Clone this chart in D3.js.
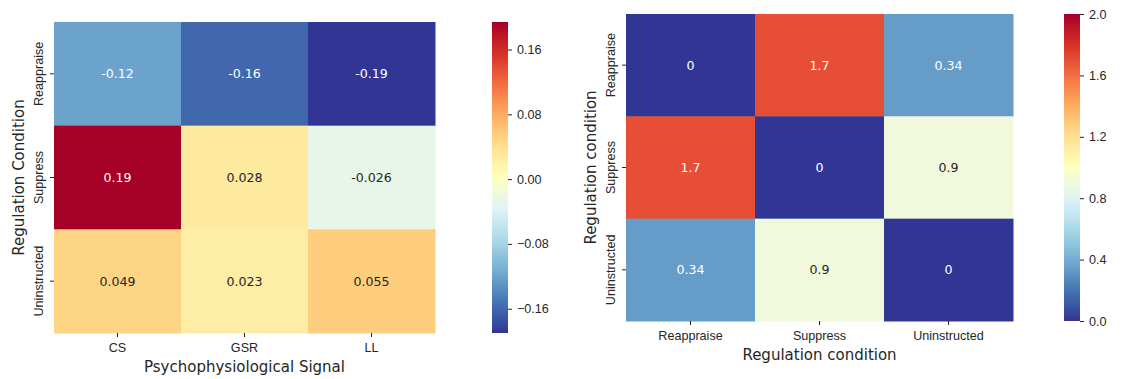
<!DOCTYPE html>
<html lang="en">
  <head>
    <meta charset="UTF-8" />
    <title>Regulation heatmaps</title>
    <style>
      body { margin: 0; background: #fff; }
      svg { display: block; font-family: "DejaVu Sans", sans-serif; }
      .tick line { stroke: #262626; }
      .tick text { fill: #262626; }
      .title { fill: #262626; font-size: 15px; }
    </style>
    <script src="https://d3js.org/d3.v7.min.js"></script>
  </head>
  <body>
    <svg id="fig" width="1123" height="379"></svg>
    <script>
      // left heatmap data
      const signals = ["CS", "GSR", "LL"];
      const conditions = ["Reappraise", "Suppress", "Uninstructed"];
      const signalValues = [
        [-0.12, -0.16, -0.19],
        [0.194, 0.028, -0.026],
        [0.049, 0.023, 0.055],
      ];
      const signalTicks = [0.16, 0.08, 0, -0.08, -0.16];

      // right heatmap data
      const distValues = [
        [0, 1.7, 0.34],
        [1.7, 0, 0.9],
        [0.34, 0.9, 0],
      ];
      const distRange = [0, 2];
      const distTicks = [0, 0.4, 0.8, 1.2, 1.6, 2.0];

      // RdYlBu reversed, piecewise linear like matplotlib
      const rdylbu = ["#313695", "#4575b4", "#74add1", "#abd9e9", "#e0f3f8", "#ffffbf",
        "#fee090", "#fdae61", "#f46d43", "#d73027", "#a50026"];
      const interp = d3.piecewise(d3.interpolateRgb, rdylbu);

      const annotFmt = d3.formatLocale({ decimal: ".", thousands: ",", grouping: [3], currency: ["", ""], minus: "-" }).format(".2~g");

      const svg = d3.select("#fig");

      function luminance(c) {
        const rgb = d3.rgb(c);
        const f = (v) => {
          v /= 255;
          return v <= 0.03928 ? v / 12.92 : Math.pow((v + 0.055) / 1.055, 2.4);
        };
        return 0.2126 * f(rgb.r) + 0.7152 * f(rgb.g) + 0.0722 * f(rgb.b);
      }

      function heatmap(o) {
        const g = svg.append("g");
        const x = d3.scaleBand().domain(o.cols).range([o.left, o.right]);
        const y = d3.scaleBand().domain(o.rows).range([o.top, o.bottom]);
        const color = d3.scaleSequential(interp).domain(o.domain);

        const cells = [];
        o.values.forEach((row, i) =>
          row.forEach((v, j) => cells.push({ r: o.rows[i], c: o.cols[j], v }))
        );

        g.selectAll("rect.cell")
          .data(cells)
          .join("rect")
          .attr("class", "cell")
          .attr("x", (d) => x(d.c))
          .attr("y", (d) => y(d.r))
          .attr("width", x.bandwidth() + 0.5)
          .attr("height", y.bandwidth() + 0.5)
          .attr("fill", (d) => color(d.v));

        g.selectAll("text.annot")
          .data(cells)
          .join("text")
          .attr("class", "annot")
          .attr("x", (d) => x(d.c) + x.bandwidth() / 2)
          .attr("y", (d) => y(d.r) + y.bandwidth() / 2)
          .attr("dy", "0.36em")
          .attr("text-anchor", "middle")
          .style("font-size", "12.6px")
          .attr("fill", (d) => (luminance(color(d.v)) > 0.408 ? "#262626" : "#ffffff"))
          .text((d) => annotFmt(d.v));

        const xa = g.append("g")
          .attr("transform", `translate(0,${o.bottom})`)
          .call(d3.axisBottom(x).tickSize(4).tickPadding(6));
        xa.select(".domain").remove();
        xa.selectAll("text").style("font-size", "12.6px").attr("fill", "#262626").attr("dy", "0.75em");

        const ya = g.append("g")
          .attr("transform", `translate(${o.left},0)`)
          .call(d3.axisLeft(y).tickSize(4));
        ya.select(".domain").remove();
        ya.selectAll("text")
          .style("font-size", "12.6px")
          .attr("fill", "#262626")
          .attr("x", null)
          .attr("dy", "0.35em")
          .attr("text-anchor", "middle")
          .attr("transform", "translate(-15,0) rotate(-90)");

        g.append("text")
          .attr("class", "title")
          .attr("x", (o.left + o.right) / 2)
          .attr("y", o.bottom + 39)
          .attr("text-anchor", "middle")
          .text(o.xTitle);

        g.append("text")
          .attr("class", "title")
          .attr("transform", `translate(${o.left - 30},${(o.top + o.bottom) / 2}) rotate(-90)`)
          .attr("text-anchor", "middle")
          .text(o.yTitle);

        // colorbar
        const cy = d3.scaleLinear().domain(o.domain).range([o.bottom, o.top]);
        const gid = "grad" + o.id;
        const grad = svg.append("defs").append("linearGradient")
          .attr("id", gid)
          .attr("x1", 0).attr("y1", 1).attr("x2", 0).attr("y2", 0);
        d3.range(0, 1.0001, 0.02).forEach((t) => {
          grad.append("stop").attr("offset", t).attr("stop-color", interp(t));
        });
        g.append("rect")
          .attr("x", o.cbLeft)
          .attr("y", o.top)
          .attr("width", 16)
          .attr("height", o.bottom - o.top)
          .attr("fill", `url(#${gid})`);
        const ca = g.append("g")
          .attr("transform", `translate(${o.cbLeft + 16},0)`)
          .call(d3.axisRight(cy).tickValues(o.ticks).tickFormat(d3.format(o.tickFmt)).tickSize(4).tickPadding(5));
        ca.select(".domain").remove();
        ca.selectAll("text").style("font-size", "12.6px").attr("fill", "#262626");
      }

      heatmap({
        id: "L",
        rows: conditions,
        cols: signals,
        values: signalValues,
        domain: d3.extent(signalValues.flat()),
        left: 54, right: 435, top: 22, bottom: 333,
        cbLeft: 492,
        ticks: signalTicks,
        tickFmt: ".2f",
        xTitle: "Psychophysiological Signal",
        yTitle: "Regulation Condition",
      });

      heatmap({
        id: "R",
        rows: conditions,
        cols: conditions,
        values: distValues,
        domain: distRange,
        left: 626, right: 1013, top: 14, bottom: 321,
        cbLeft: 1064,
        ticks: distTicks,
        tickFmt: ".1f",
        xTitle: "Regulation condition",
        yTitle: "Regulation condition",
      });
    </script>
  </body>
</html>
